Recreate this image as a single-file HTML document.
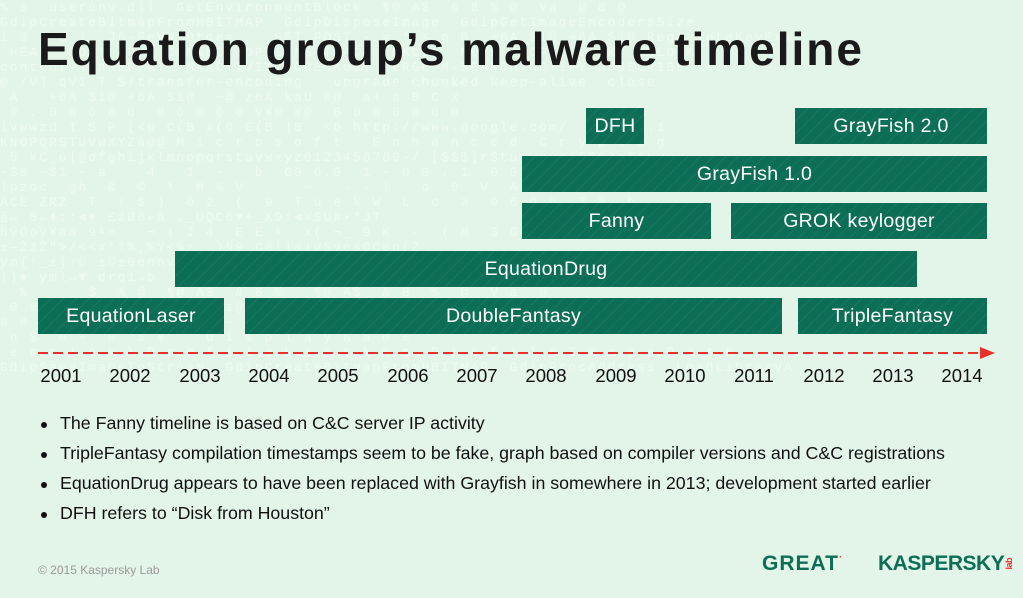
<!DOCTYPE html>
<html><head><meta charset="utf-8"><style>
body{margin:0;width:1023px;height:598px;overflow:hidden;background:#e3f5e9;font-family:"Liberation Sans",sans-serif;position:relative}
.bg{position:absolute;left:0;top:0;width:1023px;height:598px;font-family:"Liberation Mono",monospace;font-size:13px;line-height:15px;color:#eefaf1;white-space:pre;overflow:hidden;letter-spacing:2px}
.t{position:absolute;left:38px;top:22px;font-size:46px;font-weight:bold;color:#1a1a1a;letter-spacing:2px}
.b{position:absolute;height:36px;background:#0b6e55 repeating-linear-gradient(135deg,rgba(255,255,255,0.06) 0 1px,transparent 1px 9px);color:#fff;font-size:19.5px;display:flex;align-items:center;justify-content:center;letter-spacing:0.3px}
.y{position:absolute;top:365px;font-size:18.5px;color:#111;width:60px;text-align:center}
.l{position:absolute;left:60px;font-size:17.8px;color:#111}
.l:before{content:"";position:absolute;left:-19px;top:9px;width:6px;height:6px;border-radius:50%;background:#111}
</style></head><body>
<div class="bg">% s  userenv.dll  GetEnvironmentBlock  ¶@ A$  &amp; 8 % @  Va  @ 8 @
GdipCreateBitmapFromHBITMAP  GdipDisposeImage  GdipGetImageEncodersSize
i 3 2 d 1  J0-FeV4 0t¢e=    GET POST - = * % p 0  ~6A $i@ +6A $i@ RegDeleteKeyExW
 HEAD  POST  PUT CONNECT OPTIONS TRACE  MKCOL  MOVE  COPY  LOCK  UNLOCK
content-lenREPORT  MKACTIVITY CHECKOUT MERGE M-SEARCH NOTIFY SUBSCRIBE
@ /V] qVI T $!transfer-encoding   upgrade chunked keep-alive  close
 A   +6A $i@ +6A $i@  ~@ zeA kaU 0@  a+ a B C x
 0 . 0 0 0 6 0  0 0 0 0 0 V¥@ ¥@  B 0 0 0 0 0 0
lvwwzd I S P [&lt;0 C(B x(0 E(B ]B  &lt;b http://www.google.com/  HTTP/1.1
KNOPQRSTUVWXYZa@@ M i c r o s o f t   E n h a n c e d  C r y p t o g
 5 ¥C_u|@dfghijklmnopqrstuvwxyz0123456789-/ [$$$]r$tuvwxyz[$$$]r$tuvwx
-$8 ~$1 - a    4   1  -   b  G0 6.0  1 - 0 0 . 1  0 0 0 0
lpzoc  gh  &amp;  ©  ¹  M ¼ V      ~   - - l   o  0  V  A  ^  $  f
ÁÇE ZRZ  T  ! $ )  0 2  (  9  T u e k W  L  o  3  0 6 0 6  7 8  h
§↔ 5←♦↕:◄▼ £žØè▸â ↓_UQC6▼+_X9↕◄¥SU#▪*JT
ÑÿÖoÿ¥aa 9¹»   ¬ ↕ J 4  E E ¹  x( ¬_ 9 K  -  ( M  3 G G 7  X 7
±—ŽžŽ"&gt;/&lt;&lt;#'†%‚%Ÿ&lt;¾↑  )§9 CellaivSvesOCeg[Z
ym{!_±]↑© ±©±0ennv  ±a D[ ) ±  ]  `d  + P  /     +  0 Ñ
|)♦ yml↔▼ drq1→b   ¢©ÂIEAÏAÏ↓  )`cf◄QFFUY
  %      $  % @  ¶@ A$  &amp; 8 %   ¶@ A$  &amp; 8  %  @  V a  @
 0 0 0 0  1 1  0  ~6A $i@ +6A $i@  ~@ zeA  ¢@ šì@ ▸6A  ¥¢@
0 0 0 0   @  -  0  0   - 0    +  0 0  -  -  ¢ 0  + 0
 n $  0 +  0  $ ¥    d i s p l a y N a m e
 e r s i o n \ P r o f i l e L i s t \ % s  P r o f i l e I m a g e P a t h
GdipSaveImageToStream  GdipCreateBitmapFromHBITMAP  GdipProcAddress  LoadLibraryA
</div>
<div class="t">Equation group’s malware timeline</div>
<div class="b" style="left:586px;top:108px;width:58px">DFH</div>
<div class="b" style="left:795px;top:108px;width:192px">GrayFish 2.0</div>
<div class="b" style="left:522px;top:156px;width:465px">GrayFish 1.0</div>
<div class="b" style="left:522px;top:203px;width:189px">Fanny</div>
<div class="b" style="left:731px;top:203px;width:256px">GROK keylogger</div>
<div class="b" style="left:175px;top:251px;width:742px">EquationDrug</div>
<div class="b" style="left:38px;top:298px;width:186px">EquationLaser</div>
<div class="b" style="left:245px;top:298px;width:537px">DoubleFantasy</div>
<div class="b" style="left:798px;top:298px;width:189px">TripleFantasy</div>
<svg style="position:absolute;left:0;top:0" width="1023" height="598">
<line x1="38" y1="353" x2="982" y2="353" stroke="#e8312a" stroke-width="2" stroke-dasharray="10,5"/>
<polygon points="980,347 995,353 980,359" fill="#e8312a"/>
</svg>
<div class="y" style="left:31px">2001</div><div class="y" style="left:100px">2002</div><div class="y" style="left:170px">2003</div><div class="y" style="left:239px">2004</div><div class="y" style="left:308px">2005</div><div class="y" style="left:378px">2006</div><div class="y" style="left:447px">2007</div><div class="y" style="left:516px">2008</div><div class="y" style="left:586px">2009</div><div class="y" style="left:655px">2010</div><div class="y" style="left:724px">2011</div><div class="y" style="left:794px">2012</div><div class="y" style="left:863px">2013</div><div class="y" style="left:932px">2014</div>
<div class="l" style="top:413px">The Fanny timeline is based on C&amp;C server IP activity</div>
<div class="l" style="top:443px">TripleFantasy compilation timestamps seem to be fake, graph based on compiler versions and C&amp;C registrations</div>
<div class="l" style="top:473px">EquationDrug appears to have been replaced with Grayfish in somewhere in 2013; development started earlier</div>
<div class="l" style="top:503px">DFH refers to “Disk from Houston”</div>
<div style="position:absolute;left:38px;top:563px;font-size:12px;color:#999">© 2015 Kaspersky Lab</div>
<div style="position:absolute;left:762px;top:552px;font-size:21px;font-weight:bold;color:#0b6e55;letter-spacing:1px">GREAT<span style="color:#e8312a;font-size:10px;vertical-align:top">·</span></div>
<div style="position:absolute;left:878px;top:552px;font-size:21px;font-weight:bold;color:#0b6e55;letter-spacing:-0.5px">KASPERSKY<span style="color:#e8312a;font-size:9px;writing-mode:vertical-rl;transform:rotate(180deg);display:inline-block">lab</span></div>
</body></html>
